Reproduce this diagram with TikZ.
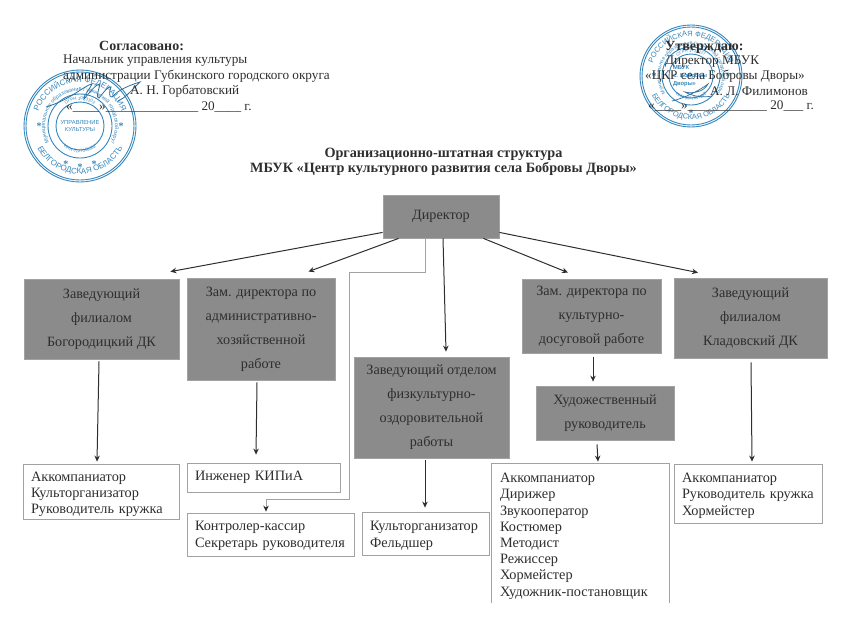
\documentclass[tikz,border=0pt]{standalone}
\usepackage{fontspec}
\setmainfont{Liberation Serif}
\setsansfont{Liberation Sans}
\usetikzlibrary{arrows.meta,decorations.text}
\definecolor{stampblue}{HTML}{3486BC}
\definecolor{inkdark}{HTML}{2E2E2E}
\definecolor{boxfill}{HTML}{8B8B8B}
\definecolor{boxedge}{HTML}{A2A2A2}
\newcommand{\ringtext}[5]{\path[postaction={decorate,decoration={text along path,text align=center,
    text={|\sffamily\fontsize{#4}{#4}\selectfont\color{stampblue}|#5}}}]
    (#2:#1pt) arc[start angle=#2,end angle=#3,radius=#1pt];}
\begin{document}
\begin{tikzpicture}[x=1pt,y=-1pt,
    graybox/.style={draw=boxedge,line width=.8pt,fill=boxfill,text=inkdark,align=center,inner sep=0pt,
        font=\fontsize{14.2}{24}\selectfont},
    listbox/.style={draw=boxedge,line width=.8pt,text=inkdark,align=left,inner sep=0pt,
        font=\fontsize{14.3}{16.2}\selectfont},
    headtxt/.style={anchor=west,inner sep=0pt,text=inkdark,font=\fontsize{13.2}{15}\selectfont},
    headbold/.style={headtxt,font=\fontsize{14}{15}\selectfont\bfseries},
    titletxt/.style={inner sep=0pt,align=center,text=inkdark,font=\fontsize{14.2}{15}\selectfont\bfseries},
    arr/.style={draw=inkdark,line width=1pt,-{Stealth[length=6pt,width=5.5pt]}},
    ring/.style={draw=stampblue,line width=.9pt}]
    \useasboundingbox (0,0) rectangle (850,618);

    % stamps
    \begin{scope}[shift={(80,126)},x=1pt,y=1pt]
    \draw[ring] (0,0) circle (56pt) (0,0) circle (54pt) (0,0) circle (32pt) (0,0) circle (24pt);
    \ringtext{44}{162}{18}{8}{РОССИЙСКАЯ ФЕДЕРАЦИЯ}
    \ringtext{48}{198}{342}{8}{БЕЛГОРОДСКАЯ ОБЛАСТЬ}
    \ringtext{35}{232}{-52}{5.4}{Муниципальное образование Губкинский городской округ}
    \ringtext{26}{150}{30}{4.4}{ОГРН 1023102}
    \ringtext{26.5}{215}{325}{4.4}{ИНН 3127008392}
    \node[inner sep=0pt,align=center,text=stampblue,font=\sffamily\fontsize{5.8}{7.5}\selectfont] (stamp1) at (0,0) {УПРАВЛЕНИЕ\\КУЛЬТУРЫ};
    \foreach \a in {180,0,270,250,290}{
    \node[inner sep=0pt,text=stampblue,font=\bfseries\fontsize{10}{10}\selectfont] (star1\a) at (\a:41pt) {*}; }
    \end{scope}
    \begin{scope}[shift={(691,76)},x=1pt,y=1pt]
    \draw[ring] (0,0) circle (51pt) (0,0) circle (49pt) (0,0) circle (29pt) (0,0) circle (22pt);
    \ringtext{40}{162}{18}{7.4}{РОССИЙСКАЯ ФЕДЕРАЦИЯ}
    \ringtext{43.5}{198}{342}{7.4}{БЕЛГОРОДСКАЯ ОБЛАСТЬ}
    \ringtext{31}{232}{-52}{5}{Муниципальное образование Губкинский городской округ}
    \ringtext{24}{150}{30}{4.2}{ОГРН 1113127}
    \ringtext{24}{215}{325}{4.2}{ИНН 3127011188}
    \node[inner sep=0pt,align=left,text=stampblue,font=\sffamily\bfseries\fontsize{5.8}{8}\selectfont] (stamp2) at (-1,0) {МБУК\\с. Бобровы\\Дворы»};
    \foreach \a in {180,0,270}{
    \node[inner sep=0pt,text=stampblue,font=\bfseries\fontsize{10}{10}\selectfont] (star2\a) at (\a:37pt) {*}; }
    \end{scope}

    % signatures
    \draw[stampblue!85!black,line width=.8pt] (46,107) .. controls (70,100) and (85,85) .. (92,84)
    .. controls (88,92) and (82,98) .. (84,99) .. controls (90,92) and (96,84) .. (100,84)
    .. controls (98,92) and (96,98) .. (99,98) .. controls (104,92) and (108,86) .. (111,87)
    .. controls (109,92) and (109,98) .. (112,97) .. controls (118,90) and (130,85) .. (140,82)
    .. controls (130,92) and (125,98) .. (118,101);
    \draw[stampblue!85!black,line width=.7pt] (672,101) .. controls (685,98) and (700,90) .. (708,84)
    .. controls (704,92) and (692,94) .. (685,92) .. controls (692,96) and (702,98) .. (712,96);

    % header texts
    \node[headbold] (agree) at (99,46) {Согласовано:};
    \node[headtxt] (agree1) at (63,61) {Начальник управления культуры};
    \node[headtxt] (agree2) at (63,76) {администрации Губкинского городского округа};
    \node[headtxt] (agree3) at (130,91) {А. Н. Горбатовский};
    \node[headtxt] (agree4) at (66,107) {«\_\_\_\_»\_\_\_\_\_\_\_\_\_\_\_\_\_\_ 20\_\_\_\_ г.};
    \node[headbold] (appr) at (665,47) {Утверждаю:};
    \node[headtxt] (appr1) at (665,62) {Директор МБУК};
    \node[headtxt] (appr2) at (645,76) {«ЦКР села Бобровы Дворы»};
    \node[headtxt] (appr3) at (710,91) {А. Л. Филимонов};
    \node[headtxt] (appr4) at (648,106) {«\_\_\_\_»\_\_\_\_\_\_\_\_\_\_\_\_ 20\_\_\_ г.};
    \node[titletxt] (title) at (443.5,161.5) {Организационно-штатная структура\\МБУК «Центр культурного развития села Бобровы Дворы»};

    % gray boxes
    \node[graybox,minimum width=116pt,minimum height=43pt] (dir) at (441,216.5) {Директор};
    \node[graybox,minimum width=155pt,minimum height=80pt] (z1) at (101.5,319) {Заведующий\\филиалом\\Богородицкий ДК};
    \node[graybox,minimum width=148pt,minimum height=102pt] (z2) at (261,329) {Зам. директора по\\административно-\\хозяйственной\\работе};
    \node[graybox,minimum width=155pt,minimum height=101pt] (z3) at (431.5,407.5) {Заведующий отделом\\физкультурно-\\оздоровительной\\работы};
    \node[graybox,minimum width=139pt,minimum height=74pt] (z4) at (591.5,316) {Зам. директора по\\культурно-\\досуговой работе};
    \node[graybox,minimum width=138pt,minimum height=54pt] (art) at (605,413) {Художественный\\руководитель};
    \node[graybox,minimum width=153pt,minimum height=80pt] (z5) at (750.5,318) {Заведующий\\филиалом\\Кладовский ДК};

    % list boxes
    \node[listbox,minimum width=156pt,minimum height=55pt,text width=140pt] (w1) at (101,491.5) {\rule{0pt}{15pt}Аккомпаниатор\\Культорганизатор\\Руководитель кружка};
    \node[listbox,minimum width=153pt,minimum height=29pt,text width=137pt] (w2) at (263.5,477.5) {Инженер КИПиА};
    \node[listbox,minimum width=167pt,minimum height=43pt,text width=151pt] (w3) at (270.5,534.5) {\rule{0pt}{12pt}Контролер-кассир\\Секретарь руководителя};
    \node[listbox,minimum width=127pt,minimum height=43pt,text width=111pt] (w4) at (425.5,533.5) {\rule{0pt}{14pt}Культорганизатор\\Фельдшер};
    \node[listbox,draw=none,minimum width=177pt,minimum height=139pt,text width=161pt] (w5) at (580.5,533.5)
    {\rule{0pt}{15pt}Аккомпаниатор\\Дирижер\\Звукооператор\\Костюмер\\Методист\\Режиссер\\Хормейстер\\Художник-постановщик};
    \node[listbox,minimum width=148pt,minimum height=59pt,text width=132pt] (w6) at (748,493.5) {\rule{0pt}{14pt}Аккомпаниатор\\Руководитель кружка\\Хормейстер};
    \draw[draw=boxedge,line width=.8pt] (w5.south west) |- (w5.north east) -- (w5.south east);

    % connectors
    \foreach \from/\fx/\fy/\to/\tx/\ty in {
    dir.south west/0/6/z1.north east/-9/7,
    dir.south west/16/0/z2.north east/-27/6,
    dir.south/2/0/z3.north/14.5/5,
    dir.south east/-16/0/z4.north/-23.5/6,
    dir.south east/0/6/z5.north/-52.5/5,
    z1.south/-2.5/-2/w1.north/-4/2,
    z2.south/-4/-2/w2.north/-7.5/8,
    z3.south/-6.5/-2/w4.north/-.5/4,
    z4.south/1.5/-4/art.north/-12/4,
    art.south/-8/-4/w5.north/17.5/2,
    z5.south/.5/-4/w6.north/4/2}{
    \draw[arr] ([xshift=\fx pt,yshift=\fy pt]\from) -- ([xshift=\tx pt,yshift=\ty pt]\to); }
    \coordinate (bend1) at (349,272);
    \coordinate (bend2) at (349,499);
    \draw[draw=boxedge,line width=1pt,-{Stealth[length=6pt,width=5.5pt,color=inkdark]}]
    ([xshift=-16pt]dir.south) |- (bend1) -- (bend2) -| ([xshift=-4.5pt,yshift=1pt]w3.north);
\end{tikzpicture}
\end{document}
